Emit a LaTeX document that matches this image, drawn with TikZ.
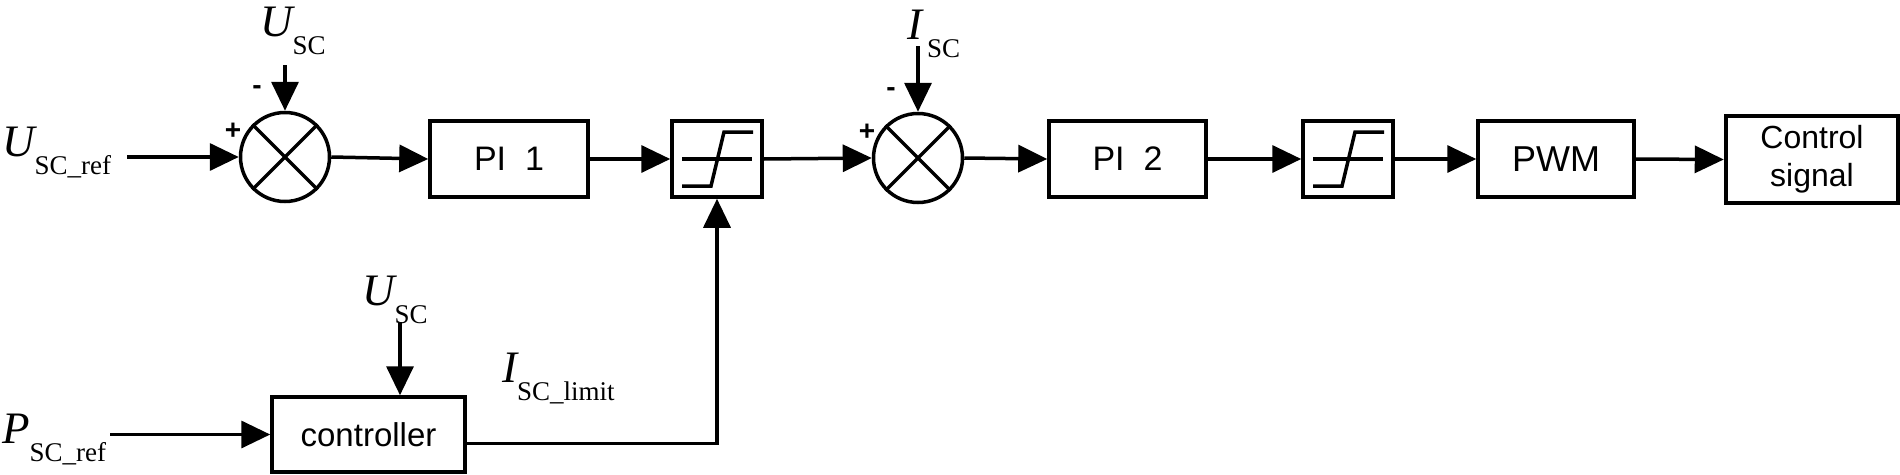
\documentclass[tikz,border=0pt]{standalone}
\usepackage{fontspec}
\setmainfont{Liberation Serif}
\setsansfont{Liberation Sans}
\usetikzlibrary{arrows.meta,calc}
\newcommand{\siglbl}[3][0pt]{{\fontsize{45}{45}\selectfont\itshape #2}\kern#1\raisebox{-18pt}{\fontsize{27}{27}\selectfont #3}}
\tikzset{
  wire/.style={line width=3.5pt, -{Triangle[length=29pt,width=27pt]}},
  blk/.style={draw, line width=3.5pt, minimum height=76pt, inner sep=0pt,
    font=\sffamily\fontsize{34}{38}\selectfont, align=center},
  sumc/.style={draw, circle, line width=3.5pt, minimum size=89pt, inner sep=0pt},
  lbl/.style={anchor=base west, inner sep=0pt},
  sgn/.style={inner sep=0pt, font=\sffamily\bfseries\fontsize{28}{28}\selectfont}
}
\begin{document}
\begin{tikzpicture}[x=1pt,y=-1pt]
\useasboundingbox (0,0) rectangle (1900,474);
% labels
\node[lbl] (lUref) at (2,156) {\siglbl{U}{SC\_ref}};
\node[lbl] (lU1) at (260,36) {\siglbl{U}{SC}};
\node[lbl] (lI1) at (907,39) {\siglbl[5pt]{I}{SC}};
\node[lbl] (lU2) at (362,305) {\siglbl{U}{SC}};
\node[lbl] (lIlim) at (502,382) {\siglbl{I}{SC\_limit}};
\node[lbl] (lPref) at (2,443) {\siglbl{P}{SC\_ref}};
% summing junctions
\node[sumc] (s1) at (285,157) {};
\node[sumc] (s2) at (918,158) {};
\foreach \s in {s1,s2}{
  \draw[line width=3.5pt] (\s.45) -- (\s.225) (\s.135) -- (\s.-45);
}
\node[sgn] (p1) at (233,131) {+};
\node[sgn] (m1) at (257,90) {-};
\node[sgn] (p2) at (867,132) {+};
\node[sgn] (m2) at (891,92) {-};
% blocks
\node[blk, minimum width=158pt] (pi1) at (509,159) {PI\ \ 1};
\node[blk, minimum width=90pt] (sat1) at (717,159) {};
\node[blk, minimum width=157pt] (pi2) at (1127.5,159) {PI\ \ 2};
\node[blk, minimum width=90pt] (sat2) at (1348,159) {};
\node[blk, minimum width=156pt, font=\sffamily\fontsize{36}{38}\selectfont] (pwm) at (1556,159) {PWM};
\node[blk, line width=4.5pt, minimum width=172pt, minimum height=87pt, font=\sffamily\fontsize{32}{38}\selectfont] (ctl) at (1812,159.5) {Control\\signal};
\node[blk, minimum width=193pt, minimum height=75pt, font=\sffamily\fontsize{33}{38}\selectfont] (cont) at (368.5,434.5) {controller};
% saturation symbols
\foreach \s in {sat1,sat2}{
  \draw[line width=3.5pt, shift={(\s.center)}] (-35,0) -- (35,0);
  \draw[line width=3.5pt, shift={(\s.center)}] (-35,27) -- (-6,27) -- (7,-27) -- (36,-27);
}
% input coordinates
\coordinate (inU) at (127,157);
\coordinate (inU1) at (285,65);
\coordinate (inI) at (918,46);
\coordinate (inP) at (110,434.5);
\coordinate (inU2) at (400,322);
% connectors
\draw[wire] (inU) -- (s1.west);
\draw[wire] (inU1) -- (s1.north);
\draw[wire] (s1.east) -- (pi1.west);
\draw[wire] (pi1.east) -- (sat1.west);
\draw[wire] (sat1.east) -- (s2.west);
\draw[wire] (inI) -- (s2.north);
\draw[wire] (s2.east) -- (pi2.west);
\draw[wire] (pi2.east) -- (sat2.west);
\draw[wire] (sat2.east) -- (pwm.west);
\draw[wire] (pwm.east) -- (ctl.west);
\draw[wire] (inP) -- (cont.west);
\draw[wire] (inU2) -- (inU2 |- cont.north);
\draw[wire] ([yshift=-9pt]cont.east) -| (sat1.south);
\end{tikzpicture}
\end{document}
